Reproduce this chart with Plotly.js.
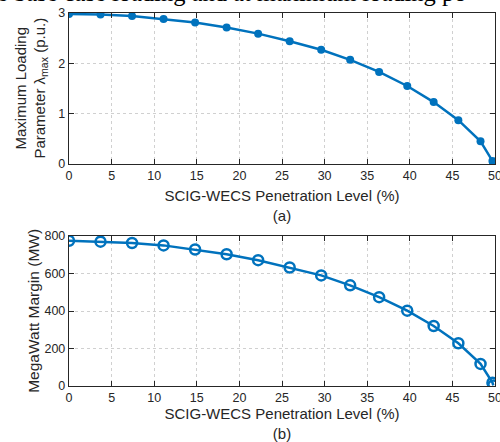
<!DOCTYPE html>
<html>
<head>
<meta charset="utf-8">
<script src="https://cdn.plot.ly/plotly-3.0.1.min.js"></script>
<style>html,body{margin:0;padding:0;background:#fff;}#chart{width:500px;height:442px;}</style>
</head>
<body>
<div id="chart"></div>
<script>
// Penetration levels (%)
const penetration = [0, 3.7, 7.4, 11.1, 14.8, 18.5, 22.2, 25.9, 29.6, 33.0, 36.4, 39.7, 42.8, 45.7, 48.3, 49.7, 49.8];
// (a) Maximum loading parameter lambda_max (p.u.)
const lambdaMax = [2.98, 2.97, 2.94, 2.88, 2.81, 2.71, 2.59, 2.44, 2.27, 2.07, 1.83, 1.55, 1.23, 0.87, 0.45, 0.06, 0.01];
// (b) MegaWatt margin (MW)
const mwMargin = [775, 770, 763, 750, 728, 703, 671, 632, 590, 537, 474, 402, 320, 228, 118, 18, 3];

const xTicks = [0, 5, 10, 15, 20, 25, 30, 35, 40, 45, 50];
const yTicksA = [0, 1, 2, 3];
const yTicksB = [0, 200, 400, 600, 800];

const blue = '#0072BD';
const axisCol = '#262626';
const gridCol = '#d0d0d0';
const font = '"Liberation Sans", Arial, sans-serif';

const traces = [
  {x: penetration, y: lambdaMax, xaxis: 'x', yaxis: 'y', mode: 'lines+markers',
   line: {color: blue, width: 2.5}, marker: {color: blue, size: 8, symbol: 'circle'}},
  {x: penetration, y: mwMargin, xaxis: 'x2', yaxis: 'y2', mode: 'lines+markers',
   line: {color: blue, width: 2.5}, marker: {color: blue, size: 10, symbol: 'circle-open', line: {width: 2.5, color: blue}}}
];

function xax(anchor, domainTitle) {
  return {anchor: anchor, domain: [0, 1], range: [0, 50], tickvals: xTicks, ticktext: xTicks.map(String),
    showline: true, linecolor: axisCol, linewidth: 1.2, mirror: 'ticks', ticks: 'inside', ticklen: 5, tickcolor: axisCol,
    showgrid: true, gridcolor: gridCol, griddash: 'dot', gridwidth: 1, zeroline: false,
    ticklabeloverflow: 'allow',
    tickfont: {family: font, size: 12.5, color: axisCol},
    title: {text: 'SCIG-WECS Penetration Level (%)<br>' + domainTitle, font: {family: font, size: 15, color: axisCol}, standoff: 8}};
}
function yax(anchor, domain, range, ticks) {
  return {anchor: anchor, domain: domain, range: range, tickvals: ticks, ticktext: ticks.map(String),
    showline: true, linecolor: axisCol, linewidth: 1.2, mirror: 'ticks', ticks: 'inside', ticklen: 5, tickcolor: axisCol,
    showgrid: true, gridcolor: gridCol, griddash: 'dot', gridwidth: 1, zeroline: false,
    tickfont: {family: font, size: 12.5, color: axisCol}};
}

const layout = {
  width: 500, height: 442, showlegend: false,
  paper_bgcolor: '#fff', plot_bgcolor: '#fff',
  margin: {l: 69, r: 5, t: 13, b: 56},
  xaxis: xax('y', '(a)'),
  yaxis: yax('x', [0.5952, 1], [0, 3], yTicksA),
  xaxis2: xax('y2', '(b)'),
  yaxis2: yax('x2', [0, 0.4021], [0, 800], yTicksB),
  annotations: [
    {text: 'Maximum Loading<br>Parameter λ<sub>max</sub> (p.u.)', textangle: -90, xref: 'paper', yref: 'paper',
     x: -0.089, y: 0.7976, xanchor: 'center', yanchor: 'middle', showarrow: false,
     font: {family: font, size: 15, color: axisCol}},
    {text: 'MegaWatt Margin (MW)', textangle: -90, xref: 'paper', yref: 'paper',
     x: -0.085, y: 0.201, xanchor: 'center', yanchor: 'middle', showarrow: false,
     font: {family: font, size: 15.5, color: axisCol}},
    {text: 'e base case loading and at maximum loading po', xref: 'paper', yref: 'paper',
     x: -0.174, y: 1.0145, xanchor: 'left', yanchor: 'bottom', showarrow: false,
     font: {family: '"Liberation Serif", "Times New Roman", serif', size: 24.5, color: '#000'}}
  ]
};

Plotly.newPlot('chart', traces, layout, {displayModeBar: false, staticPlot: true});
</script>
</body>
</html>
